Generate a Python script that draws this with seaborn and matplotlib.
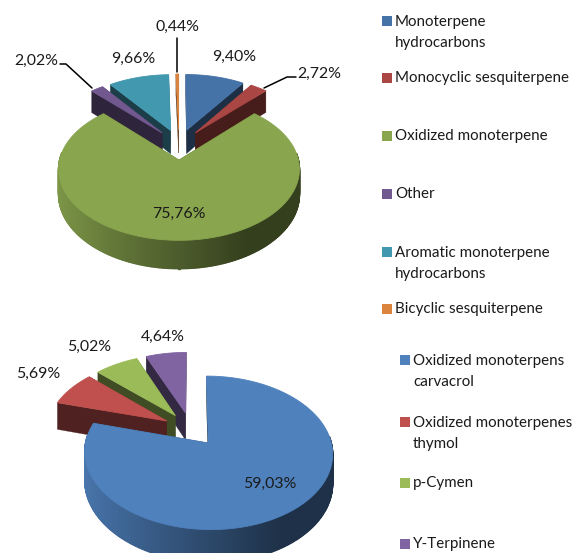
import numpy as np
import matplotlib
matplotlib.use("Agg")
import matplotlib.pyplot as plt
import seaborn as sns

# datos de los dos graficos
groups_top = ["Monoterpene\nhydrocarbons", "Monocyclic sesquiterpene", "Oxidized monoterpene",
              "Other", "Aromatic monoterpene\nhydrocarbons", "Bicyclic sesquiterpene"]
values_top = [9.40, 2.72, 75.76, 2.02, 9.66, 0.44]
colors_top = ["#4572A7", "#AA4643", "#89A54E", "#71588F", "#4198AF", "#DB843D"]

groups_bottom = ["Oxidized monoterpens\ncarvacrol", "Oxidized monoterpenes\nthymol", "p-Cymen", "Y-Terpinene"]
values_bottom = [59.03, 5.69, 5.02, 4.64]
colors_bottom = ["#4F81BD", "#C0504D", "#9BBB59", "#8064A2"]

sns.set_theme(style="white")
plt.rcParams["font.family"] = ["Lato", "DejaVu Sans"]

TEXT = "#1a1a1a"
FS = 11.4
FS_LEG = 10.9


def project(u, v, z, pie):
    # perspectiva simple: u derecha, v hacia atras, z hacia abajo
    s = 1 / (1 + v / pie["d"])
    x = pie["cx"] + pie["r"] * u * s
    y = pie["y0"] - pie["k"] * v * s + pie["h"] * z * s
    return x, y


def shade(color, f):
    return tuple(c * f for c in matplotlib.colors.to_rgb(color))


def draw_pie(ax, values, colors, pie):
    fracs = np.array(values) / sum(values)
    ends = np.cumsum(fracs) * 2 * np.pi
    starts = ends - fracs * 2 * np.pi
    mids = (starts + ends) / 2
    # primero las porciones de atras
    for i in np.argsort(-np.cos(mids)):
        a0, a1, mid = starts[i], ends[i], mids[i]
        u0 = pie["e"] * np.sin(mid)
        v0 = pie["e"] * np.cos(mid)
        t = np.linspace(a0, a1, max(3, int((a1 - a0) / 0.012)))
        us = u0 + np.sin(t)
        vs = v0 + np.cos(t)

        # paredes radiales y tiras del borde curvo
        walls = []
        for a in (a0, a1):
            ue, ve = u0 + np.sin(a), v0 + np.cos(a)
            walls.append(((v0 + ve) / 2, [u0, ue], [v0, ve], 0.41, 0.2))
        for j in range(len(t) - 1):
            # el borde de atras no se ve
            if np.cos(t[j]) > 0.1:
                continue
            f = np.interp(np.sin(t[j]), [-1, 0.5, 1], [0.92, 0.38, 0.38])
            walls.append(((vs[j] + vs[j + 1]) / 2, [us[j], us[j + 1]], [vs[j], vs[j + 1]], f, 1.0))

        for _, wu, wv, f, lw in sorted(walls, key=lambda w: -w[0]):
            xa, ya = project(np.array(wu), np.array(wv), 0, pie)
            xb, yb = project(np.array(wu), np.array(wv), 1, pie)
            c = shade(colors[i], f)
            ax.fill([xa[0], xa[1], xb[1], xb[0]], [ya[0], ya[1], yb[1], yb[0]],
                    color=c, lw=lw)

        px, py = project(np.r_[u0, us], np.r_[v0, vs], 0, pie)
        ax.fill(px, py, color=colors[i], lw=0.6)


def legend(ax, groups, colors, xs, xt, ys):
    for name, c, y in zip(groups, colors, ys):
        ax.scatter([xs], [y], marker="s", s=62, color=c, linewidths=0)
        first = 11.5 if "\n" in name else 0
        ax.text(xt, y + first, name, fontsize=FS_LEG, color=TEXT, va="center", ha="left", linespacing=1.62)


def pct(v):
    return f"{v:.2f}%".replace(".", ",")


fig = plt.figure(figsize=(5.74, 5.53), dpi=100)
ax = fig.add_axes([0, 0, 1, 1])
ax.set_xlim(0, 574)
ax.set_ylim(553, 0)
ax.axis("off")

pie_top = dict(cx=179, y0=144.4, r=116, k=66, d=8, h=24, e=0.23)
pie_bottom = dict(cx=191, y0=429.2, r=120, k=72, d=8, h=28, e=0.235)
draw_pie(ax, values_top, colors_top, pie_top)
draw_pie(ax, values_bottom, colors_bottom, pie_bottom)

# etiquetas de porcentaje
pos_top = [(234, 57), (319, 74), (179, 214), (36, 61), (133, 59), (177, 27)]
pos_bottom = [(270, 484), (38, 374), (89, 347), (163, 337)]
for v, (x, y) in zip(values_top, pos_top):
    ax.text(x, y, pct(v), fontsize=FS, color=TEXT, ha="center", va="center")
for v, (x, y) in zip(values_bottom, pos_bottom):
    ax.text(x, y, pct(v), fontsize=FS, color=TEXT, ha="center", va="center")

# lineas guia
ax.plot([177, 177], [38, 72], color="black", lw=1.1)
ax.plot([60, 66, 92], [64, 64, 88], color="black", lw=1.1)
ax.plot([296, 287, 264], [77, 77, 88], color="black", lw=1.1)

legend(ax, groups_top, colors_top, 386.5, 395, [21, 78, 136, 194, 252, 309])
legend(ax, groups_bottom, colors_bottom, 405, 413, [360, 422, 483, 544])

fig.savefig("out.png", dpi=100, facecolor="white")
